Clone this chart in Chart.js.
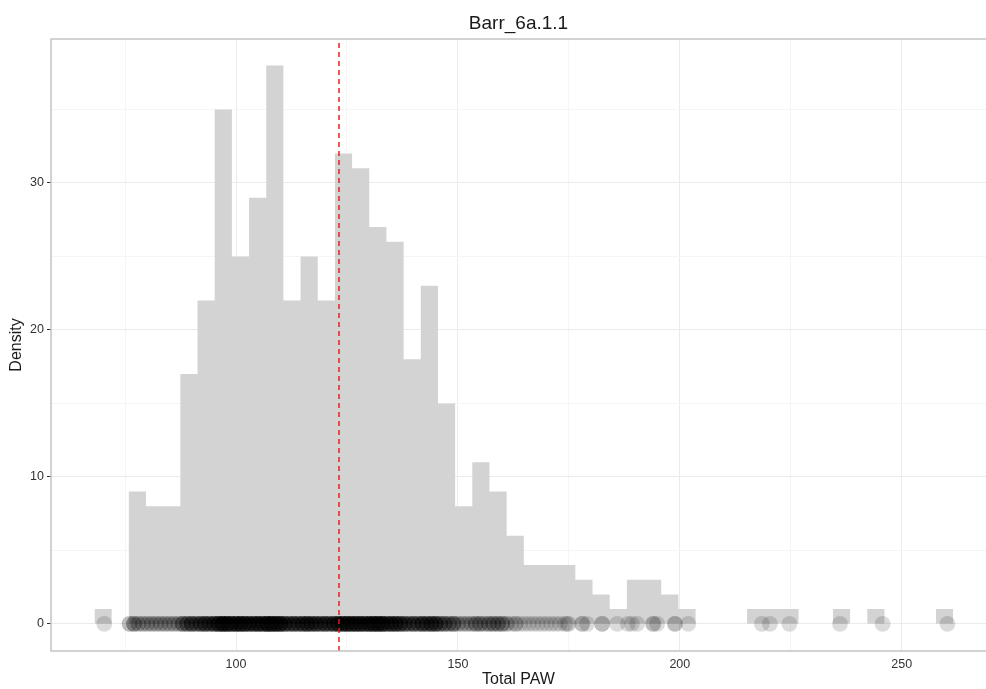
<!DOCTYPE html>
<html><head><meta charset="utf-8">
<script src="https://cdn.jsdelivr.net/npm/chart.js@4.4.1/dist/chart.umd.min.js"></script>
<style>html,body{margin:0;padding:0;background:#fff}#wrap{width:986px;height:689px}</style>
</head><body><div id="wrap"><canvas id="c" width="986" height="689"></canvas></div>
<script>
const chartTitle = 'Barr_6a.1.1';
const xTitle = 'Total PAW';
const yTitle = 'Density';

// histogram: 50 bins
const binStart = 68.1;
const binWidth = 3.87;
const binCounts = [1,0,9,8,8,17,22,35,25,29, 38,22,25,22,32,31,27,26,18,23, 15,8,11,9,6,4,4,4,3,2, 1,3,3,2,1,0,0,0,1,1, 1,0,0,1,0,1,0,0,0,1];

// individual observations shown as points at y = 0 (value, number of points at that value)
const rugX = [70.3,
 76,77,78,79, 80,81,82,83, 84,85,86,87, 88,89,90,91, 92,93,94,95, 96,97,98,99, 100,101,102,
 103,104,105,106, 107,108,109,110, 111,112,113,114, 115,116,117,118, 119,120,121,122,
 123,124,125,126, 127,128,129,130, 131,132,133, 134,135,136,137, 138,139,140,141,
 142,143,144,145, 146,147,148,149, 150,151,152,153, 154,155,156,157, 158,159,160,
 161,162,163,164, 165,166,167,168, 169,170,171,172, 173,174.1,174.6,175, 178,179.1,
 182.5, 185.9, 188.3,189.2,190.4, 194,194.9, 198.9, 201.9, 218.5,220.3,224.7, 236.1,245.7,260.3];
const rugN = [1,
 2,3,2,2, 2,2,2,2, 2,2,2,2, 4,4,5,4, 5,6,5,6, 8,10,9,8, 8,9,8,
 7,7,8,7, 10,10,9,9, 6,5,6,5, 6,7,6,6, 5,6,5,6,
 8,8,8,8, 8,8,7,8, 9,9,9, 6,7,7,6, 5,4,5,4,
 6,5,6,6, 4,4,3,4, 2,2,2,2, 3,3,2,3, 3,3,3,
 2,1,2,1, 1,1,1,1, 1,1,1,1, 1,1,1,1, 2,1,
 2, 1, 1,1,1, 2,1, 2, 1, 1,1,1, 1,1,1];

const meanPAW = 123.2;

const xMajor = [100,150,200,250];
const xMinor = [75,125,175,225];
const yMajor = [0,10,20,30];
const yMinor = [5,15,25,35];
const xRange = [58.3, 269.0];
const yRange = [-1.85, 39.8];

const FONT = "'Liberation Sans', Arial, Helvetica, sans-serif";

const histData = binCounts.map((c,i)=>({x: binStart + i*binWidth, y: c}));
histData.push({x: binStart + binCounts.length*binWidth, y: 0});

const rugData = [];
rugX.forEach((v,i)=>{ for(let k=0;k<rugN[i];k++) rugData.push({x:v, y:0}); });

const meanData = [{x: meanPAW, y: yRange[0]}, {x: meanPAW, y: yRange[1]}];

// panel frame (top, left, bottom; the right side runs off the image)
const panelBorder = {
  id: 'panelBorder',
  afterDatasetsDraw(chart){
    const a = chart.chartArea, ctx = chart.ctx;
    ctx.save();
    ctx.strokeStyle = '#c4c4c4';
    ctx.lineWidth = 1.5;
    ctx.beginPath();
    ctx.moveTo(a.right + 2, a.top);
    ctx.lineTo(a.left, a.top);
    ctx.lineTo(a.left, a.bottom);
    ctx.lineTo(a.right + 2, a.bottom);
    ctx.stroke();
    ctx.restore();
  }
};

const allX = [...xMinor, ...xMajor].sort((a,b)=>a-b);
const allY = [...yMinor, ...yMajor].sort((a,b)=>a-b);

new Chart(document.getElementById('c'), {
  type: 'scatter',
  data: {
    datasets: [
      { type:'line', data: meanData, borderColor:'rgba(240,20,20,0.9)', borderWidth:1.6, borderDash:[5,4],
        pointRadius:0, fill:false, tension:0 },
      { type:'scatter', data: rugData, pointRadius:7.9, pointHoverRadius:7.9,
        backgroundColor:'rgba(0,0,0,0.14)', borderWidth:0, pointBorderWidth:0, borderColor:'rgba(0,0,0,0)' },
      { type:'line', data: histData, stepped:true, borderColor:'rgba(0,0,0,0)', borderWidth:0,
        backgroundColor:'#d3d3d3', fill:'origin', pointRadius:0, tension:0 }
    ]
  },
  options: {
    responsive:false, animation:false, devicePixelRatio:1,
    layout:{padding:0, autoPadding:false},
    plugins:{
      legend:{display:false}, tooltip:{enabled:false},
      title:{display:true, text:chartTitle, fullSize:false, color:'#1a1a1a',
        font:{family:FONT, size:19, weight:'normal'}, padding:{top:12.4, bottom:3.8}}
    },
    scales:{
      x:{ type:'linear', min:xRange[0], max:xRange[1],
        afterBuildTicks: s => { s.ticks = allX.map(v=>({value:v})); },
        afterFit: s => { s.height = 38; },
        ticks:{ autoSkip:false, maxRotation:0, padding:6, color:'#333',
          font:{family:FONT, size:12.5},
          callback: v => xMajor.includes(v) ? String(v) : '' },
        grid:{ drawTicks:false, color: c => xMajor.includes(c.tick && c.tick.value) ? '#ebebeb' : '#f5f5f5', lineWidth:1 },
        border:{display:false},
        title:{display:true, text:xTitle, color:'#1a1a1a', font:{family:FONT, size:16}, padding:{top:0,bottom:0}}
      },
      y:{ type:'linear', min:yRange[0], max:yRange[1],
        afterBuildTicks: s => { s.ticks = allY.map(v=>({value:v})); },
        afterFit: s => { s.width = 51; },
        ticks:{ autoSkip:false, padding:3, color:'#333', font:{family:FONT, size:12.5},
          callback: v => yMajor.includes(v) ? String(v) : '' },
        grid:{ drawTicks:true, tickLength:4,
          tickColor: c => yMajor.includes(c.tick && c.tick.value) ? '#333' : 'rgba(0,0,0,0)',
          color: c => yMajor.includes(c.tick && c.tick.value) ? '#ebebeb' : '#f5f5f5', lineWidth:1 },
        border:{display:false},
        title:{display:true, text:yTitle, color:'#1a1a1a', font:{family:FONT, size:16}, padding:{top:7.4,bottom:0}}
      }
    }
  },
  plugins:[panelBorder]
});
</script></body></html>
